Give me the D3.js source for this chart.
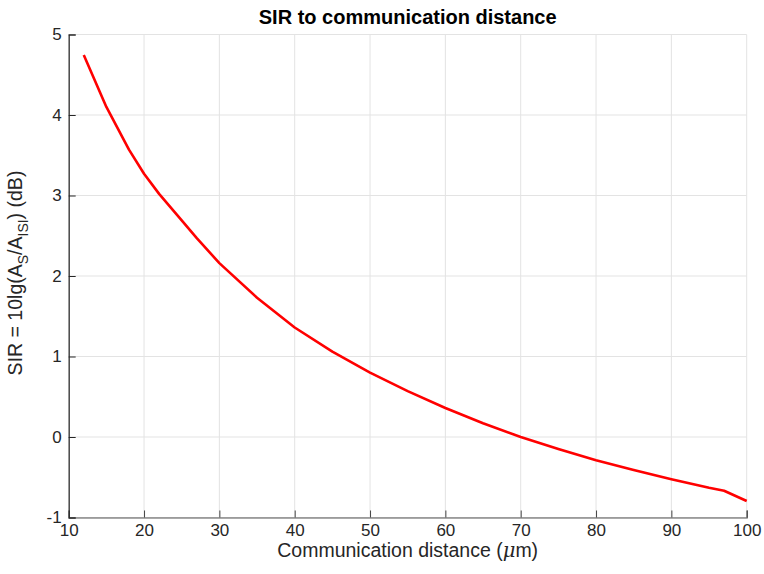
<!DOCTYPE html>
<html>
<head>
<meta charset="utf-8">
<script src="https://cdn.jsdelivr.net/npm/d3@7"></script>
<style>
  body { margin: 0; background: #fff; }
  text { font-family: "Liberation Sans", Arial, Helvetica, sans-serif; }
</style>
</head>
<body>
<div id="chart"></div>
<script>
// data
var distance = [12, 15, 18, 20, 22, 25, 27, 30, 35, 40, 45, 50, 55, 60, 65, 70, 75, 80, 85, 90, 95, 97, 100];
var sir = [4.745, 4.10, 3.57, 3.27, 3.02, 2.69, 2.47, 2.16, 1.73, 1.36, 1.06, 0.80, 0.57, 0.36, 0.17, 0.00, -0.15, -0.29, -0.41, -0.525, -0.63, -0.667, -0.795];
var xTicks = [10, 20, 30, 40, 50, 60, 70, 80, 90, 100];
var yTicks = [-1, 0, 1, 2, 3, 4, 5];

var W = 764, H = 574;
var margin = {top: 34.5, right: 17.3, bottom: 56.5, left: 68.7},
    width = W - margin.left - margin.right,
    height = H - margin.top - margin.bottom;

const svg = d3.select("#chart")
  .append("svg")
  .attr("width", W)
  .attr("height", H);

const g = svg.append("g")
  .attr("transform", `translate(${margin.left},${margin.top})`);

var x = d3.scaleLinear().domain([10, 100]).range([0, width]);
var y = d3.scaleLinear().domain([-1, 5]).range([height, 0]);

// grid
g.append("g").selectAll("line")
  .data(xTicks)
  .join("line")
  .attr("x1", d => x(d)).attr("x2", d => x(d))
  .attr("y1", 0).attr("y2", height)
  .attr("stroke", "#e3e3e3").attr("stroke-width", 1);

g.append("g").selectAll("line")
  .data(yTicks)
  .join("line")
  .attr("x1", 0).attr("x2", width)
  .attr("y1", d => y(d)).attr("y2", d => y(d))
  .attr("stroke", "#e3e3e3").attr("stroke-width", 1);

// x axis (ticks pointing inward)
const xAxis = g.append("g")
  .attr("transform", "translate(0," + height + ")")
  .call(d3.axisBottom(x).tickValues(xTicks).tickSize(-7).tickPadding(6).tickFormat(d => String(d)));
xAxis.select(".domain").attr("stroke", "#555").attr("stroke-width", 1.2);
xAxis.selectAll(".tick line").attr("stroke", "#444");
xAxis.selectAll("text").attr("font-size", 17).attr("fill", "#262626");

// y axis
const yAxis = g.append("g")
  .call(d3.axisLeft(y).tickValues(yTicks).tickSize(-7).tickPadding(7).tickFormat(d => String(d)));
yAxis.select(".domain").attr("stroke", "#262626").attr("stroke-width", 1.2);
yAxis.selectAll(".tick line").attr("stroke", "#262626");
yAxis.selectAll("text").attr("font-size", 17).attr("fill", "#262626");

// curve
g.append("path")
  .datum(distance.map((d, i) => [d, sir[i]]))
  .attr("fill", "none")
  .attr("stroke", "#ff0000")
  .attr("stroke-width", 2.6)
  .attr("stroke-linejoin", "round")
  .attr("d", d3.line().x(d => x(d[0])).y(d => y(d[1])));

// title
svg.append("text")
  .attr("x", margin.left + width / 2)
  .attr("y", 24)
  .attr("text-anchor", "middle")
  .attr("font-size", 20)
  .attr("font-weight", "bold")
  .attr("fill", "#000")
  .text("SIR to communication distance");

// x label
const xl = svg.append("text")
  .attr("x", margin.left + width / 2)
  .attr("y", 557)
  .attr("text-anchor", "middle")
  .attr("font-size", 19.5)
  .attr("fill", "#262626");
xl.append("tspan").text("Communication distance (");
xl.append("tspan").attr("font-family", "'DejaVu Serif', serif").attr("font-style", "italic").text("\u03bc");
xl.append("tspan").text("m)");

// y label with subscripts
const yl = svg.append("text")
  .attr("transform", `translate(22,${margin.top + height / 2 - 3}) rotate(-90)`)
  .attr("text-anchor", "middle")
  .attr("font-size", 19.5)
  .attr("fill", "#262626");
yl.append("tspan").text("SIR = 10lg(A");
yl.append("tspan").attr("font-size", 14).attr("dy", 6).text("S");
yl.append("tspan").attr("dy", -6).text("/A");
yl.append("tspan").attr("font-size", 14).attr("dy", 6).text("ISI");
yl.append("tspan").attr("dy", -6).text(") (dB)");
</script>
</body>
</html>
